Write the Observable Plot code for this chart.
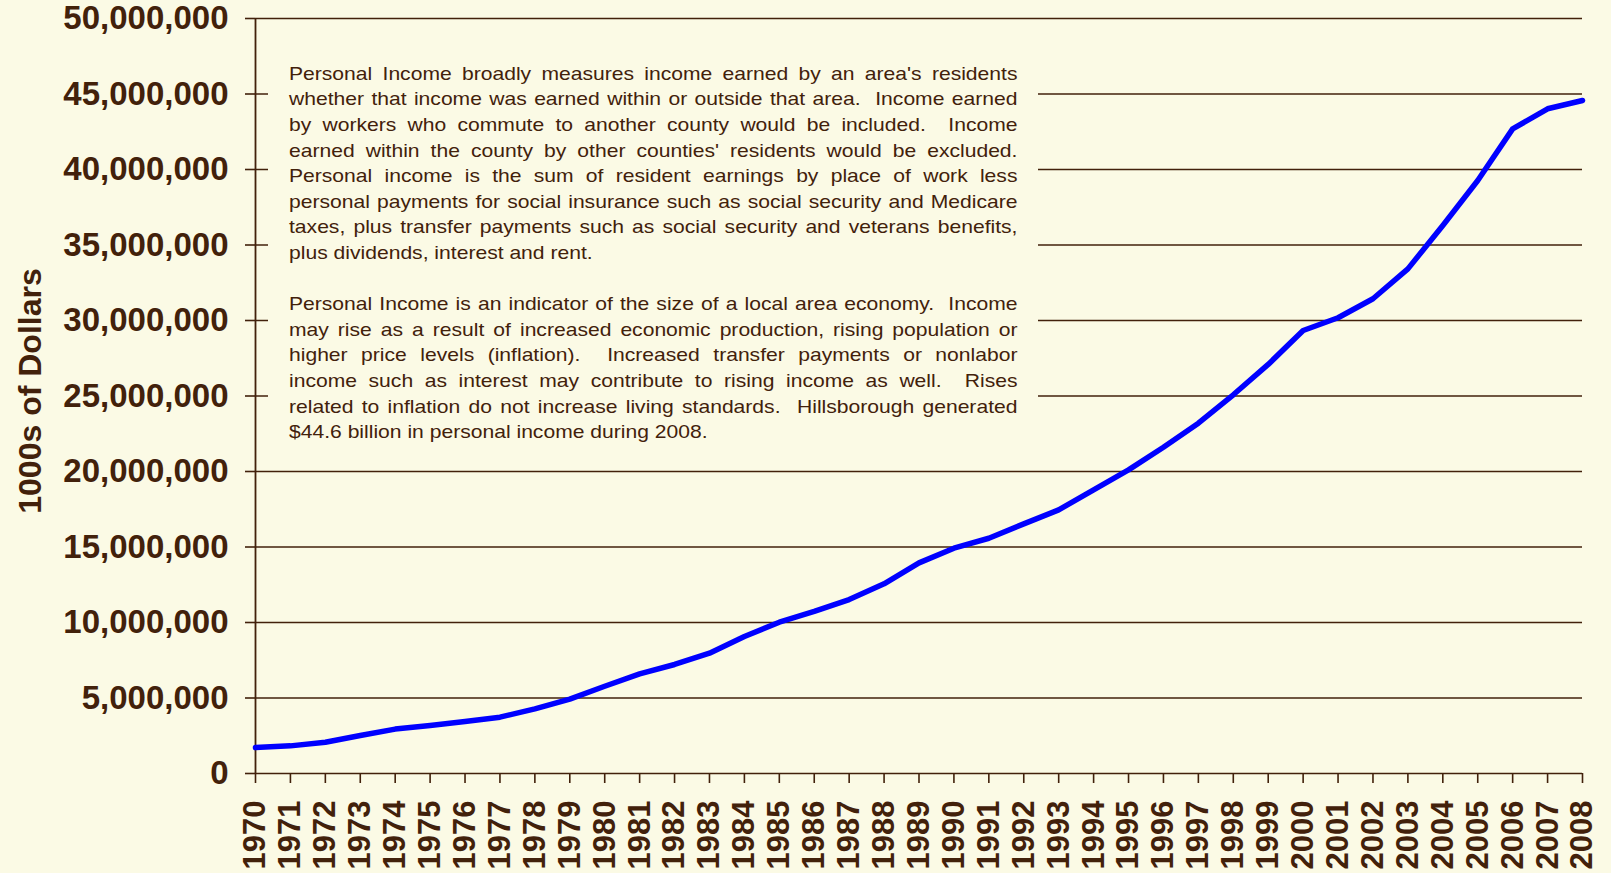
<!DOCTYPE html>
<html>
<head>
<meta charset="utf-8">
<script src="https://cdn.jsdelivr.net/npm/d3@7"></script>
<script src="https://cdn.jsdelivr.net/npm/@observablehq/plot@0.6"></script>
<style>
  html, body { margin: 0; padding: 0; background: #FBFAE5; }
  #wrap { position: relative; width: 1611px; height: 873px; overflow: hidden; background: #FBFAE5; }
  #note {
    position: absolute; left: 268px; top: 32px; width: 770px; height: 422px;
    background: #FBFAE5; box-sizing: border-box; padding: 28.8px 0 0 21px;
    font-family: "Liberation Sans", Arial, sans-serif; color: #42210B;
  }
  #note .inner { transform: scaleX(1.14); transform-origin: 0 0; width: 639px; }
  #note .ln { white-space: nowrap; font-size: 18.5px; line-height: 25.6px; height: 25.6px;
    text-align: justify; text-align-last: justify; width: 639px; }
  #note .ln.last { text-align-last: left; }
</style>
</head>
<body>
<div id="wrap"></div>
<script>
const years = [1970,1971,1972,1973,1974,1975,1976,1977,1978,1979,1980,1981,1982,1983,1984,1985,1986,1987,1988,1989,1990,1991,1992,1993,1994,1995,1996,1997,1998,1999,2000,2001,2002,2003,2004,2005,2006,2007,2008];
const income = [1720000,1830000,2070000,2520000,2940000,3180000,3440000,3730000,4280000,4930000,5780000,6600000,7220000,7970000,9070000,10020000,10730000,11520000,12560000,13950000,14920000,15580000,16530000,17460000,18790000,20110000,21610000,23200000,25080000,27090000,29340000,30180000,31440000,33420000,36290000,39270000,42690000,44020000,44570000];
const yTicks = [0,5000000,10000000,15000000,20000000,25000000,30000000,35000000,40000000,45000000,50000000];
const yLabel = "1000s of Dollars";
const noteParagraph1 = [
  "Personal Income broadly measures income earned by an area's residents",
  "whether that income was earned within or outside that area.\u00a0 Income earned",
  "by workers who commute to another county would be included.\u00a0 Income",
  "earned within the county by other counties' residents would be excluded.",
  "Personal income is the sum of resident earnings by place of work less",
  "personal payments for social insurance such as social security and Medicare",
  "taxes, plus transfer payments such as social security and veterans benefits,",
  "plus dividends, interest and rent."
];
const noteParagraph2 = [
  "Personal Income is an indicator of the size of a local area economy.\u00a0 Income",
  "may rise as a result of increased economic production, rising population or",
  "higher price levels (inflation).\u00a0 Increased transfer payments or nonlabor",
  "income such as interest may contribute to rising income as well.\u00a0 Rises",
  "related to inflation do not increase living standards.\u00a0 Hillsborough generated",
  "$44.6 billion in personal income during 2008."
];

const ink = "#42210B";
const bg = "#FBFAE5";
const data = years.map((y, i) => ({year: y, value: income[i]}));

const chart = Plot.plot({
  width: 1611,
  height: 873,
  marginLeft: 255,
  marginRight: 29,
  marginTop: 18,
  marginBottom: 100,
  style: {background: bg, color: ink, fontFamily: "'Liberation Sans', Arial, sans-serif"},
  x: {domain: [1970, 2008]},
  y: {domain: [0, 50000000]},
  marks: [
    Plot.ruleY(yTicks, {x1: 1970, x2: 2008, stroke: ink, strokeWidth: 1.6}),
    Plot.ruleX([1970], {y1: 0, y2: 50000000, stroke: ink, strokeWidth: 1.8}),
    Plot.line(data, {x: "year", y: "value", stroke: "#0000FF", strokeWidth: 5.5, strokeLinejoin: "round"}),
    Plot.axisY({ticks: yTicks, tickFormat: d3.format(","), tickSize: 10, tickPadding: 17,
      fontSize: 33, fontWeight: "bold", label: null, stroke: ink, strokeWidth: 1.6}),
    Plot.axisX({ticks: years, tickFormat: d => String(d), tickRotate: -90, tickSize: 10, tickPadding: 17,
      fontSize: 31, fontWeight: "bold", label: null, stroke: ink, strokeWidth: 1.6}),
    Plot.text([yLabel], {frameAnchor: "left", textAnchor: "middle", dx: -225, dy: -5, rotate: -90,
      fontSize: 32, fontWeight: "bold", fill: ink})
  ]
});

const wrap = document.getElementById("wrap");
wrap.appendChild(chart);

const note = document.createElement("div");
note.id = "note";
const inner = document.createElement("div");
inner.className = "inner";
function addLines(lines) {
  lines.forEach((t, i) => {
    const d = document.createElement("div");
    d.className = "ln" + (i === lines.length - 1 ? " last" : "");
    d.textContent = t;
    inner.appendChild(d);
  });
}
addLines(noteParagraph1);
const gap = document.createElement("div");
gap.className = "ln last";
gap.innerHTML = "&nbsp;";
inner.appendChild(gap);
addLines(noteParagraph2);
note.appendChild(inner);
wrap.appendChild(note);
</script>
</body>
</html>
